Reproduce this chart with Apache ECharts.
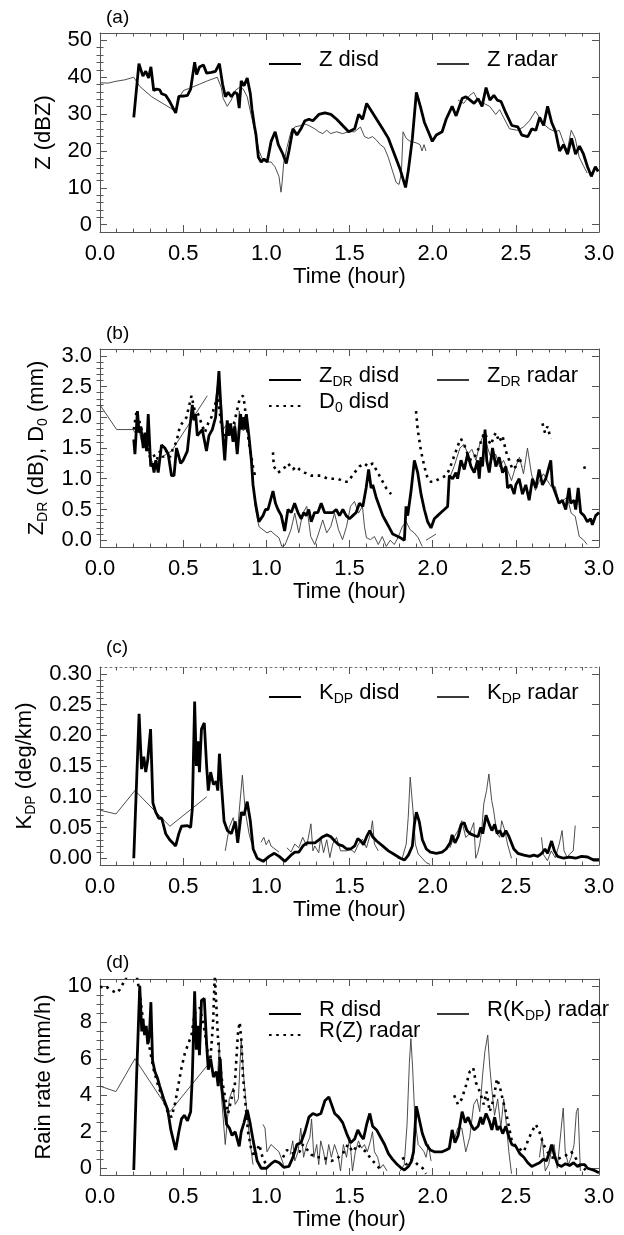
<!DOCTYPE html>
<html><head><meta charset="utf-8">
<script src="https://cdn.jsdelivr.net/npm/echarts@6/dist/echarts.min.js"></script>
<style>html,body{margin:0;padding:0;background:#fff}#c{width:624px;height:1235px}</style>
</head><body><div id="c"></div>
<script>
const FONT = "'Liberation Sans', Arial, Helvetica, sans-serif";

// ---------- DATA: [time (hour), value] ----------
// Panel (a): Z (dBZ)
const zDisd = [[0.203,29.1],[0.234,43.7],[0.258,40.3],[0.275,41.6],[0.292,39.8],[0.306,42.8],[0.323,36.4],[0.34,36.8],[0.359,36.6],[0.371,35.5],[0.395,35.1],[0.419,33.4],[0.455,30.3],[0.474,34.8],[0.502,34.9],[0.526,35.1],[0.545,36.8],[0.569,44.1],[0.581,40.7],[0.598,42.8],[0.622,43.3],[0.641,41.1],[0.67,41.3],[0.694,41.6],[0.718,43.7],[0.737,38.1],[0.754,34.7],[0.77,35.9],[0.79,34.7],[0.809,35.9],[0.825,35.5],[0.837,31.6],[0.849,39],[0.866,37.7],[0.885,39.8],[0.904,35.5],[0.914,31.2],[0.928,26.9],[0.938,24.3],[0.952,18.3],[0.969,17],[0.986,17.8],[1.005,17],[1.029,22.6],[1.053,25.2],[1.072,21.7],[1.1,19.1],[1.12,16.6],[1.136,20],[1.16,26],[1.184,24.3],[1.208,26],[1.232,28.2],[1.256,28.6],[1.28,28.2],[1.316,29.9],[1.352,30.3],[1.388,29.9],[1.423,28.6],[1.459,26.9],[1.495,25.2],[1.531,26],[1.555,29.9],[1.579,28.6],[1.603,32.9],[1.627,31.2],[1.663,28.6],[1.699,26],[1.734,23.4],[1.77,19.1],[1.806,14.8],[1.837,10.1],[1.854,14.8],[1.878,23.4],[1.902,35.9],[1.926,32.1],[1.95,27.8],[1.974,25.2],[1.998,22.6],[2.022,24.3],[2.057,25.2],[2.081,28.6],[2.117,32.1],[2.141,29.5],[2.177,34.2],[2.2,34.7],[2.225,33.8],[2.249,32.9],[2.273,34.2],[2.297,32.1],[2.321,37.2],[2.344,33.8],[2.368,35.1],[2.388,33.8],[2.411,33.4],[2.44,30.3],[2.476,26.9],[2.512,26.5],[2.536,24.3],[2.572,23.9],[2.596,26],[2.62,25.6],[2.643,29.1],[2.667,26.9],[2.691,32.1],[2.715,27.8],[2.739,25.2],[2.763,20],[2.787,21.7],[2.811,19.1],[2.835,23.4],[2.859,19.1],[2.883,21.3],[2.907,19.1],[2.931,15.7],[2.954,13.1],[2.978,15.7],[2.995,14.4]];
const zRadar = [[0,38.5],[0.05,38.4],[0.096,38.9],[0.15,39.3],[0.203,40],[0.215,40.2],[0.239,37.5],[0.311,34.7],[0.454,30.8],[0.478,34.7],[0.502,36.4],[0.55,37.2],[0.598,38.1],[0.645,39],[0.705,40],[0.729,37.2],[0.741,34.2],[0.765,32.1],[0.789,33.8],[0.813,36.4],[0.837,37.2],[0.861,36.8],[0.885,34.7],[0.908,29.9],[0.932,25.2],[0.956,20],[0.98,17.4],[1.004,17],[1.028,17],[1.052,15.7],[1.076,13.1],[1.088,8.8],[1.095,11.4],[1.104,16.6],[1.124,20.9],[1.148,25.2],[1.171,26.5],[1.207,26.9],[1.231,27.3],[1.255,26.9],[1.291,26],[1.315,25.2],[1.339,24.7],[1.363,25.6],[1.387,24.7],[1.422,25.2],[1.458,24.7],[1.494,25.2],[1.53,25.2],[1.566,26.5],[1.59,23.9],[1.614,23.4],[1.638,23.9],[1.661,23],[1.685,21.7],[1.709,20.9],[1.733,18.3],[1.757,14.8],[1.781,11.4],[1.798,10.9],[1.812,14],[1.822,25.2],[1.841,23.4],[1.865,22.6],[1.901,22.2],[1.924,21.7],[1.936,20],[1.948,21.7],[1.96,20],[2.0,null],[2.152,33.8],[2.187,32.9],[2.223,35.1],[2.247,35.9],[2.271,33.8],[2.307,32.9],[2.343,32.1],[2.379,29.9],[2.403,31.2],[2.426,29.1],[2.462,26],[2.51,25.6],[2.546,26.5],[2.582,28.2],[2.618,30.8],[2.642,29.1],[2.666,27.3],[2.701,26],[2.737,25.2],[2.761,25.6],[2.785,22.6],[2.809,20],[2.833,25.6],[2.857,23.4],[2.881,18.3],[2.905,16.1],[2.929,14]];

// Panel (b): ZDR (dB), D0 (mm)
const zdrDisd = [[0.203,1.64],[0.21,1.4],[0.225,2.1],[0.235,1.75],[0.245,1.85],[0.26,1.5],[0.27,1.75],[0.28,1.45],[0.29,2.05],[0.305,1.2],[0.315,1.25],[0.325,1.1],[0.335,1.3],[0.35,1.1],[0.37,1.55],[0.39,1.5],[0.41,1.4],[0.43,1.05],[0.445,1.05],[0.46,1.5],[0.47,1.4],[0.485,1.25],[0.5,1.3],[0.525,1.45],[0.555,2.2],[0.565,1.95],[0.575,2.05],[0.585,1.7],[0.6,1.75],[0.615,1.8],[0.64,1.45],[0.655,1.7],[0.675,1.8],[0.695,2.0],[0.715,2.75],[0.73,2.0],[0.75,1.3],[0.765,1.95],[0.775,1.7],[0.785,1.9],[0.8,1.6],[0.81,1.85],[0.825,1.4],[0.845,2.05],[0.855,1.8],[0.865,2.0],[0.875,1.8],[0.88,2.05],[0.895,1.7],[0.91,1.3],[0.92,0.9],[0.935,0.6],[0.955,0.3],[0.965,0.3],[0.98,0.4],[0.995,0.5],[1.01,0.5],[1.04,0.8],[1.055,0.6],[1.07,0.5],[1.09,0.4],[1.11,0.15],[1.13,0.5],[1.15,0.45],[1.17,0.6],[1.19,0.45],[1.21,0.35],[1.225,0.45],[1.24,0.4],[1.255,0.5],[1.27,0.3],[1.29,0.45],[1.31,0.45],[1.33,0.6],[1.35,0.45],[1.38,0.45],[1.4,0.45],[1.42,0.5],[1.44,0.4],[1.46,0.5],[1.48,0.4],[1.5,0.35],[1.52,0.4],[1.54,0.45],[1.56,0.6],[1.58,0.55],[1.6,0.85],[1.615,1.15],[1.63,0.85],[1.64,0.9],[1.66,0.7],[1.68,0.55],[1.7,0.4],[1.72,0.3],[1.74,0.2],[1.76,0.1],[1.8,0.05],[1.83,0.0],[1.84,0.55],[1.85,0.4],[1.87,0.8],[1.89,1.3],[1.91,1.1],[1.93,0.75],[1.95,0.5],[1.97,0.3],[1.99,0.2],[2.01,0.35],[2.03,0.4],[2.05,0.45],[2.07,0.5],[2.09,0.55],[2.1,1.05],[2.12,1.0],[2.14,1.1],[2.15,1.0],[2.17,1.3],[2.19,1.15],[2.21,1.4],[2.23,1.2],[2.25,1.1],[2.27,1.3],[2.28,1.0],[2.29,1.35],[2.3,1.2],[2.315,1.8],[2.325,1.3],[2.34,1.1],[2.36,1.5],[2.38,1.2],[2.4,1.35],[2.42,1.1],[2.44,1.2],[2.45,0.85],[2.47,0.9],[2.49,0.75],[2.5,0.9],[2.52,1.0],[2.54,0.75],[2.56,0.9],[2.58,0.65],[2.6,1.0],[2.62,0.85],[2.64,1.15],[2.66,0.9],[2.68,1.0],[2.71,1.3],[2.72,0.9],[2.74,0.75],[2.76,0.6],[2.78,0.65],[2.8,0.5],[2.82,0.85],[2.83,0.6],[2.85,0.65],[2.86,0.5],[2.875,0.85],[2.89,0.45],[2.91,0.4],[2.93,0.3],[2.95,0.35],[2.96,0.25],[2.98,0.4],[3.0,0.45]];
const zdrRadar = [[0,2.2],[0.1,1.8],[0.2,1.8],[0.21,1.75],[0.23,1.85],[0.25,1.6],[0.27,1.7],[0.29,1.45],[0.31,1.3],[0.33,1.2],[0.35,1.3],[0.37,1.35],[0.4,1.4],[0.43,1.45],[0.645,2.35],[0.66,null],[0.69,2.2],[0.705,2.5],[0.729,2.25],[0.741,1.8],[0.765,1.9],[0.789,1.7],[0.813,1.9],[0.825,1.55],[0.837,2.1],[0.861,1.78],[0.885,1.9],[0.908,1.35],[0.932,0.55],[0.956,0.22],[0.98,0.17],[1.004,0.12],[1.028,0.15],[1.052,0.09],[1.076,0.04],[1.093,-0.1],[1.112,-0.08],[1.148,0.17],[1.171,0.44],[1.195,0.12],[1.219,0.44],[1.243,0.55],[1.267,0.06],[1.291,-0.07],[1.315,0.12],[1.339,0.33],[1.363,0.12],[1.387,0.22],[1.41,0.44],[1.434,0.17],[1.458,0.01],[1.482,0.22],[1.506,0.55],[1.53,0.63],[1.554,0.44],[1.578,0.55],[1.59,0.22],[1.602,0.04],[1.626,0.01],[1.65,0.06],[1.673,-0.07],[1.697,0.06],[1.721,-0.1],[1.745,0.0],[1.769,-0.07],[1.793,0.05],[1.817,0.22],[1.841,0.3],[1.865,0.17],[1.889,0.12],[1.913,0.04],[1.937,-0.1],[1.95,null],[1.96,0.0],[1.99,0.05],[2.02,0.1],[2.03,null],[2.093,0.95],[2.129,1.2],[2.164,1.5],[2.188,1.56],[2.212,1.4],[2.236,1.48],[2.26,1.3],[2.283,1.56],[2.307,1.72],[2.331,1.5],[2.355,1.3],[2.379,1.4],[2.403,1.19],[2.426,1.3],[2.45,1.14],[2.474,0.97],[2.498,1.19],[2.522,1.35],[2.546,1.08],[2.57,1.5],[2.594,1.08],[2.618,0.81],[2.642,0.97],[2.666,1.08],[2.69,0.97],[2.713,0.87],[2.737,0.87],[2.761,0.6],[2.785,0.65],[2.809,0.7],[2.833,0.44],[2.857,0.39],[2.881,0.06],[2.905,0.01],[2.929,-0.07]];
const d0Disd = [[0.203,1.8],[0.22,2.1],[0.24,1.9],[0.26,1.7],[0.28,1.6],[0.3,1.35],[0.32,1.4],[0.34,1.3],[0.36,1.45],[0.38,1.35],[0.4,1.45],[0.42,1.35],[0.44,1.5],[0.46,1.6],[0.48,1.85],[0.52,2.0],[0.55,2.35],[0.57,2.1],[0.59,2.05],[0.61,1.9],[0.63,1.75],[0.65,1.9],[0.67,2.0],[0.69,2.2],[0.71,2.3],[0.73,1.85],[0.75,1.7],[0.77,1.8],[0.79,1.75],[0.81,1.95],[0.84,2.3],[0.86,2.35],[0.87,2.2],[0.88,1.9],[0.9,1.5],[0.92,1.2],[0.935,1.0],[0.95,null],[1.04,1.43],[1.045,1.2],[1.07,1.1],[1.1,1.15],[1.13,1.25],[1.16,1.15],[1.18,1.2],[1.2,1.15],[1.23,1.1],[1.27,1.05],[1.3,1.05],[1.33,1.05],[1.37,1.0],[1.4,1.0],[1.43,1.0],[1.47,0.95],[1.49,0.95],[1.53,1.1],[1.56,1.2],[1.59,1.25],[1.61,1.2],[1.64,1.25],[1.67,1.1],[1.7,0.95],[1.72,0.85],[1.75,0.75],[1.77,null],[1.9,2.1],[1.91,1.8],[1.93,1.45],[1.95,1.2],[1.97,1.0],[1.99,0.95],[2.01,0.95],[2.04,1.0],[2.08,1.05],[2.1,1.15],[2.12,1.3],[2.14,1.45],[2.16,1.6],[2.17,1.65],[2.19,1.55],[2.21,1.4],[2.23,1.3],[2.25,1.35],[2.27,1.45],[2.29,1.6],[2.31,1.75],[2.33,1.65],[2.35,1.55],[2.37,1.7],[2.38,1.75],[2.4,1.6],[2.42,1.7],[2.44,1.45],[2.46,1.3],[2.48,1.15],[2.5,1.2],[2.52,1.35],[2.54,1.2],[2.56,null],[2.66,1.9],[2.675,1.75],[2.69,1.85],[2.71,1.65],[2.72,null],[2.91,1.2],[2.925,1.1]];

// Panel (c): KDP (deg/km)
const kdpDisd = [[0.203,0.0],[0.235,0.235],[0.25,0.145],[0.263,0.165],[0.275,0.14],[0.287,0.16],[0.304,0.21],[0.318,0.09],[0.335,0.075],[0.354,0.065],[0.371,0.065],[0.395,0.04],[0.419,0.03],[0.455,0.02],[0.474,0.04],[0.49,0.052],[0.526,0.053],[0.545,0.05],[0.555,0.08],[0.569,0.255],[0.579,0.15],[0.589,0.19],[0.598,0.14],[0.61,0.21],[0.627,0.22],[0.641,0.15],[0.651,0.11],[0.665,0.14],[0.682,0.12],[0.699,0.125],[0.708,0.11],[0.718,0.17],[0.73,0.12],[0.746,0.06],[0.766,0.045],[0.79,0.04],[0.813,0.06],[0.828,0.025],[0.85,0.075],[0.866,0.07],[0.885,0.092],[0.904,0.06],[0.921,0.015],[0.945,0.0],[0.981,-0.005],[1.017,0.003],[1.048,0.008],[1.077,0.003],[1.112,-0.005],[1.148,0.005],[1.172,0.01],[1.196,0.01],[1.22,0.02],[1.244,0.025],[1.268,0.025],[1.292,0.025],[1.316,0.03],[1.34,0.035],[1.364,0.038],[1.388,0.035],[1.411,0.028],[1.435,0.022],[1.459,0.02],[1.483,0.015],[1.507,0.015],[1.531,0.02],[1.55,0.032],[1.567,0.028],[1.584,0.022],[1.603,0.035],[1.622,0.045],[1.639,0.035],[1.663,0.028],[1.699,0.02],[1.734,0.012],[1.77,0.006],[1.806,0.0],[1.83,-0.003],[1.854,0.005],[1.878,0.02],[1.89,0.055],[1.902,0.075],[1.919,0.06],[1.938,0.03],[1.962,0.015],[1.986,0.01],[2.022,0.008],[2.057,0.01],[2.081,0.015],[2.105,0.025],[2.117,0.038],[2.134,0.025],[2.153,0.035],[2.172,0.055],[2.189,0.058],[2.206,0.045],[2.225,0.04],[2.249,0.037],[2.273,0.035],[2.289,0.05],[2.301,0.04],[2.321,0.07],[2.34,0.055],[2.356,0.045],[2.373,0.055],[2.388,0.04],[2.404,0.045],[2.421,0.035],[2.44,0.045],[2.459,0.035],[2.488,0.015],[2.512,0.008],[2.548,0.005],[2.584,0.003],[2.608,0.005],[2.632,0.003],[2.656,0.008],[2.675,0.015],[2.691,0.008],[2.715,0.028],[2.732,0.012],[2.751,0.003],[2.787,0.0],[2.823,0.002],[2.859,0.0],[2.895,0.003],[2.931,0.002],[2.967,-0.003],[3.0,-0.003]];
const kdpRadar = [[0,0.078],[0.096,0.072],[0.21,0.11],[0.42,0.052],[0.642,0.1],[0.66,null],[0.753,0.012],[0.777,0.05],[0.801,0.066],[0.825,0.034],[0.837,0.077],[0.856,0.135],[0.873,0.077],[0.896,0.04],[0.913,0.023],[0.93,null],[0.968,0.026],[0.985,0.034],[0.999,0.022],[1.015,0.03],[1.028,0.02],[1.052,0.015],[1.076,0.01],[1.09,null],[1.124,0.017],[1.148,0.01],[1.171,0.023],[1.195,0.017],[1.219,0.034],[1.243,0.02],[1.268,0.056],[1.28,0.012],[1.291,0.02],[1.315,0.009],[1.327,0.034],[1.344,0.009],[1.363,0.03],[1.382,0.001],[1.399,0.023],[1.422,0.034],[1.446,0.012],[1.482,0.012],[1.506,0.015],[1.53,0.009],[1.554,0.023],[1.578,0.031],[1.602,0.017],[1.626,0.04],[1.638,0.061],[1.65,0.023],[1.673,0.012],[1.69,null],[1.79,0.0],[1.817,0.0],[1.841,0.023],[1.853,0.066],[1.865,0.132],[1.882,0.077],[1.896,0.023],[1.913,0.007],[1.937,0.0],[1.96,-0.007],[1.984,-0.01],[2.0,null],[2.104,0.017],[2.128,0.034],[2.152,0.045],[2.175,0.061],[2.199,0.034],[2.223,0.04],[2.247,0.058],[2.259,0.0],[2.271,0.009],[2.283,0.023],[2.295,0.045],[2.307,0.088],[2.324,0.11],[2.338,0.137],[2.355,0.094],[2.367,0.077],[2.386,0.04],[2.403,0.034],[2.415,0.061],[2.434,0.045],[2.45,0.023],[2.474,0.0],[2.49,null],[2.654,0.034],[2.666,0.006],[2.69,-0.004],[2.713,0.012],[2.737,0.001],[2.761,0.023],[2.778,0.045],[2.79,0.012],[2.809,0.001],[2.821,0.006],[2.845,0.012],[2.857,0.053],[2.87,null]];

// Panel (d): rain rate (mm/h)
const rDisd = [[0.203,-0.1],[0.22,5],[0.239,10],[0.251,7.5],[0.258,8.2],[0.268,7.3],[0.278,7.8],[0.287,6.8],[0.297,7.3],[0.306,9.1],[0.316,5.9],[0.33,5.3],[0.347,4.9],[0.359,4.5],[0.383,3.8],[0.407,3.2],[0.426,2.1],[0.435,2.0],[0.455,1.0],[0.474,2.0],[0.49,2.7],[0.507,2.9],[0.526,2.6],[0.545,3.1],[0.555,5.0],[0.569,9.7],[0.579,6.5],[0.589,7.8],[0.598,6.2],[0.61,9.2],[0.627,9.3],[0.641,6.8],[0.651,5.4],[0.665,6.0],[0.682,5.0],[0.699,5.3],[0.711,4.5],[0.723,6.0],[0.732,4.4],[0.746,3.5],[0.761,2.4],[0.778,2.2],[0.794,1.8],[0.813,2.0],[0.825,1.6],[0.837,1.2],[0.849,2.0],[0.866,2.5],[0.885,3.2],[0.902,2.5],[0.921,1.5],[0.945,0.4],[0.969,0.0],[1.0,0.0],[1.029,0.25],[1.053,0.4],[1.077,0.3],[1.105,0.05],[1.136,0.1],[1.16,0.6],[1.184,1.3],[1.208,1.4],[1.232,2.0],[1.256,2.8],[1.28,3.0],[1.304,2.9],[1.328,3.0],[1.352,3.7],[1.376,3.9],[1.392,3.5],[1.411,3.0],[1.435,2.8],[1.459,2.5],[1.483,1.9],[1.507,1.4],[1.531,1.6],[1.55,2.1],[1.567,1.8],[1.584,1.6],[1.603,2.4],[1.622,3.0],[1.639,2.3],[1.663,2.1],[1.687,1.7],[1.711,1.3],[1.734,0.8],[1.758,0.5],[1.782,0.25],[1.806,0.05],[1.83,-0.1],[1.854,0.1],[1.871,0.35],[1.885,0.9],[1.902,3.4],[1.919,2.7],[1.938,1.9],[1.962,1.3],[1.986,1.0],[2.01,0.9],[2.033,0.9],[2.057,0.9],[2.081,1.0],[2.1,1.1],[2.117,2.1],[2.134,1.4],[2.153,1.8],[2.177,3.1],[2.196,2.5],[2.213,2.8],[2.23,2.4],[2.249,2.1],[2.273,2.3],[2.289,2.8],[2.301,2.4],[2.321,3.0],[2.34,2.6],[2.356,2.1],[2.373,2.8],[2.388,2.1],[2.404,2.3],[2.421,1.9],[2.44,2.3],[2.459,1.7],[2.476,1.3],[2.5,1.2],[2.524,0.8],[2.548,0.6],[2.572,0.3],[2.596,0.1],[2.62,0.2],[2.643,0.3],[2.667,0.5],[2.684,0.4],[2.703,0.9],[2.715,1.3],[2.732,0.7],[2.751,0.2],[2.775,0.1],[2.799,0.25],[2.823,0.15],[2.847,0.3],[2.871,0.1],[2.895,0.2],[2.914,0.2],[2.931,0.0],[2.967,-0.1],[3.0,-0.25]];
const rzRadar = [[0,9.9],[0.03,10],[0.06,9.8],[0.1,9.6],[0.12,9.8],[0.16,10.5],[0.22,10.6],[0.24,9.5],[0.26,8.0],[0.28,7.5],[0.3,6.5],[0.32,5.5],[0.35,4.5],[0.38,3.8],[0.41,3.0],[0.43,2.8],[0.45,3.5],[0.47,4.5],[0.49,5.5],[0.51,6.3],[0.53,6.8],[0.55,7.3],[0.57,8.5],[0.6,8.8],[0.63,7.5],[0.66,5.5],[0.68,8.0],[0.69,10.6],[0.7,10.6],[0.71,7.0],[0.73,5.0],[0.75,4.0],[0.77,3.0],[0.79,3.8],[0.81,4.5],[0.83,7.5],[0.84,8.0],[0.85,7.0],[0.86,5.0],[0.875,3.5],[0.89,2.0],[0.91,1.0],[0.93,0.6],[0.957,1.3],[0.98,0.5],[1.0,0.2],[1.02,null],[1.1,0.6],[1.124,1.0],[1.15,0.8],[1.2,0.9],[1.22,1.3],[1.27,0.75],[1.3,0.6],[1.34,0.6],[1.39,0.4],[1.42,0.5],[1.46,0.8],[1.49,1.3],[1.52,0.9],[1.55,1.3],[1.57,1.1],[1.6,0.9],[1.63,0.5],[1.66,0.2],[1.69,-0.1],[1.71,null],[1.82,0.6],[1.84,0.2],[1.88,0.5],[1.91,0.2],[1.94,0.0],[1.96,-0.3],[1.97,null],[2.129,4.0],[2.152,3.5],[2.175,3.8],[2.199,4.5],[2.223,5.3],[2.244,5.5],[2.26,4.7],[2.283,4.2],[2.307,3.5],[2.324,4.2],[2.343,3.1],[2.367,3.8],[2.386,4.9],[2.403,4.5],[2.42,3.8],[2.44,3.1],[2.46,2.2],[2.476,1.5],[2.5,1.2],[2.548,0.9],[2.572,1.5],[2.596,2.0],[2.62,2.4],[2.642,2.0],[2.666,1.3],[2.69,0.9],[2.714,0.6],[2.75,0.5],[2.8,0.7],[2.833,0.9],[2.857,0.6],[2.88,0.2],[2.92,-0.1]];
const rkdpRadar = [[0,4.5],[0.096,4.2],[0.21,6.0],[0.42,3.1],[0.642,5.6],[0.66,null],[0.705,4.5],[0.717,6.9],[0.729,4.1],[0.753,1.3],[0.777,3.8],[0.801,4.4],[0.813,3.5],[0.832,3.8],[0.849,7.1],[0.865,4.9],[0.885,2.9],[0.904,1.3],[0.92,0.2],[0.94,null],[0.98,2.4],[0.992,2.2],[1.004,0.9],[1.028,1.3],[1.052,1.1],[1.076,0.9],[1.088,0.9],[1.104,0.2],[1.12,null],[1.143,0.75],[1.159,1.5],[1.171,0.4],[1.191,0.9],[1.207,2.2],[1.224,0.6],[1.243,1.3],[1.262,1.7],[1.272,2.7],[1.286,0.6],[1.303,1.3],[1.315,0.2],[1.327,1.5],[1.344,0.9],[1.358,0.2],[1.375,1.3],[1.391,0.6],[1.41,1.3],[1.43,0.75],[1.446,-0.15],[1.463,1.3],[1.482,0.6],[1.501,1.7],[1.518,-0.15],[1.535,0.9],[1.554,1.5],[1.573,1.1],[1.59,1.3],[1.607,0.9],[1.626,1.5],[1.638,2.0],[1.65,0.9],[1.669,0.6],[1.685,0.0],[1.702,0.2],[1.726,-0.15],[1.75,null],[1.805,-0.15],[1.829,0.2],[1.846,2.4],[1.86,5.8],[1.869,7.1],[1.879,5.6],[1.893,2.7],[1.913,1.3],[1.932,1.1],[1.948,0.9],[1.96,0.6],[1.975,1.3],[1.99,0.4],[2.0,null],[2.128,1.5],[2.15,2.2],[2.175,2.2],[2.199,0.9],[2.223,1.7],[2.247,3.5],[2.266,3.8],[2.283,3.1],[2.3,5.1],[2.314,6.4],[2.331,7.3],[2.343,5.6],[2.357,4.2],[2.372,2.9],[2.391,3.8],[2.41,2.2],[2.427,3.8],[2.443,2.4],[2.458,0.9],[2.474,-0.3],[2.49,null],[2.642,0.6],[2.658,1.7],[2.677,-0.15],[2.697,0.2],[2.713,0.9],[2.73,1.3],[2.749,0.0],[2.773,2.2],[2.785,3.3],[2.797,0.9],[2.816,0.2],[2.833,0.6],[2.85,1.3],[2.864,3.1],[2.874,3.3],[2.888,-0.15]];

// ---------- ticks ----------
const xMin = 0, xMax = 3, xInterval = 0.5;
const aMajor = [0,10,20,30,40,50];
const aMinor = [2,4,6,8,12,14,16,18,22,24,26,28,32,34,36,38,42,44,46,48];
const bMajor = [0,0.5,1.0,1.5,2.0,2.5,3.0];
const bMinor = [0.1,0.2,0.3,0.4,0.6,0.7,0.8,0.9,1.1,1.2,1.3,1.4,1.6,1.7,1.8,1.9,2.1,2.2,2.3,2.4,2.6,2.7,2.8,2.9];
const cMajor = [0,0.05,0.10,0.15,0.20,0.25,0.30];
const cMinor = [0.01,0.02,0.03,0.04,0.06,0.07,0.08,0.09,0.11,0.12,0.13,0.14,0.16,0.17,0.18,0.19,0.21,0.22,0.23,0.24,0.26,0.27,0.28,0.29];
const dMajor = [0,2,4,6,8,10];
const dMinor = [0.5,1,1.5,2.5,3,3.5,4.5,5,5.5,6.5,7,7.5,8.5,9,9.5];

// ---------- labels ----------
const LABELS = {
  'Z disd':'{m|Z disd}', 'Z radar':'{m|Z radar}',
  'ZDR disd':'{m|Z}{s|DR}{m| disd}', 'ZDR radar':'{m|Z}{s|DR}{m| radar}', 'D0 disd':'{m|D}{s|0}{m| disd}',
  'KDP disd':'{m|K}{s|DP}{m| disd}', 'KDP radar':'{m|K}{s|DP}{m| radar}',
  'R disd':'{m|R disd}', 'R(Z) radar':'{m|R(Z) radar}', 'R(KDP) radar':'{m|R(K}{s|DP}{m|) radar}'
};
const YNAMES = ['{m|Z (dBZ)}', '{m|Z}{s|DR}{m| (dB), D}{s|0}{m| (mm)}', '{m|K}{s|DP}{m| (deg/km)}', '{m|Rain rate (mm/h)}'];

const RICH = {
  m:{fontSize:22, fontFamily:FONT, color:'#000', lineHeight:26},
  s:{fontSize:14, fontFamily:FONT, color:'#000', lineHeight:14, verticalAlign:'bottom'}
};
const AX = '#555';
const grids = [
  {left:100, width:499, top:33, height:199},
  {left:100, width:499, top:349, height:198},
  {left:100, width:499, top:667, height:198},
  {left:100, width:499, top:979, height:196}
];
const yCfg = [
  {min:-2, max:52, major:aMajor, minor:aMinor, fmt:v=>String(Math.round(v)), gap:42},
  {min:-0.11, max:3.11, major:bMajor, minor:bMinor, fmt:v=>v.toFixed(1), gap:50},
  {min:-0.011, max:0.311, major:cMajor, minor:cMinor, fmt:v=>v.toFixed(2), gap:61},
  {min:-0.37, max:10.37, major:dMajor, minor:dMinor, fmt:v=>String(Math.round(v)), gap:43}
];

const xAxes = [], yAxes = [];
grids.forEach((g, gi) => {
  const base = {type:'value', gridIndex:gi, min:xMin, max:xMax, interval:xInterval,
    axisLine:{show:true, onZero:false, lineStyle:{color:AX, width:1}},
    axisTick:{show:true, inside:true, length:7, lineStyle:{color:AX}},
    minorTick:{show:true, splitNumber:5, length:3.5, lineStyle:{color:AX}},
    splitLine:{show:false}, minorSplitLine:{show:false}};
  xAxes.push(Object.assign({}, base, {position:'bottom',
    axisLabel:{show:true, margin:11, fontSize:22, color:'#000', fontFamily:FONT, formatter:v=>v.toFixed(1)},
    name:'Time (hour)', nameLocation:'middle', nameGap:34,
    nameTextStyle:{fontSize:22, color:'#000', fontFamily:FONT, lineHeight:22}}));
  const topLine = gi === 2 ? {show:true, onZero:false, lineStyle:{color:'#777', width:1, type:[2,3]}} : base.axisLine;
  xAxes.push(Object.assign({}, base, {position:'top', axisLine:topLine, axisLabel:{show:false}}));

  const c = yCfg[gi];
  const common = {type:'value', gridIndex:gi, min:c.min, max:c.max, splitLine:{show:false}};
  const line = {show:true, onZero:false, lineStyle:{color:AX, width:1}};
  const tick = (vals, len) => ({show:true, inside:true, length:len, customValues:vals, lineStyle:{color:AX}});
  yAxes.push(Object.assign({}, common, {position:'left', axisLine:line, axisTick:tick(c.major,7),
    axisLabel:{show:true, customValues:c.major, formatter:c.fmt, margin:8, fontSize:22, color:'#000', fontFamily:FONT},
    name:YNAMES[gi], nameLocation:'middle', nameGap:c.gap, nameRotate:90,
    nameTextStyle:{fontSize:22, fontFamily:FONT, color:'#000', lineHeight:26, rich:RICH}}));
  yAxes.push(Object.assign({}, common, {position:'left', axisLine:{show:false}, axisTick:tick(c.minor,3.5), axisLabel:{show:false}}));
  yAxes.push(Object.assign({}, common, {position:'right', axisLine:line, axisTick:tick(c.major,7), axisLabel:{show:false}}));
  yAxes.push(Object.assign({}, common, {position:'right', axisLine:{show:false}, axisTick:tick(c.minor,3.5), axisLabel:{show:false}}));
});

const THIN = {color:'#3a3a3a', width:0.9};
const THICK = {color:'#000', width:2.8};
const DOTS = {color:'#000', width:2.6, type:[2.6,4.6], cap:'butt'};
function ser(gi, name, data, style, z) {
  return {type:'line', name, xAxisIndex:gi*2, yAxisIndex:gi*4, data, symbol:'none', showSymbol:false,
    connectNulls:false, clip:true, lineStyle:style, itemStyle:{color:style.color}, color:style.color,
    z, animation:false, emphasis:{disabled:true}};
}
const series = [
  ser(0,'Z radar',zRadar,THIN,2), ser(0,'Z disd',zDisd,THICK,3),
  ser(1,'ZDR radar',zdrRadar,THIN,2), ser(1,'D0 disd',d0Disd,DOTS,3), ser(1,'ZDR disd',zdrDisd,THICK,4),
  ser(2,'KDP radar',kdpRadar,THIN,2), ser(2,'KDP disd',kdpDisd,THICK,3),
  ser(3,'R(KDP) radar',rkdpRadar,THIN,2), ser(3,'R(Z) radar',rzRadar,DOTS,3), ser(3,'R disd',rDisd,THICK,4)
];

function leg(name, left, cy) {
  return {data:[name], left, top:cy-13, itemWidth:32, itemHeight:14, padding:0, selectedMode:false,
    itemStyle:{opacity:0, borderWidth:0},
    textStyle:{fontSize:22, fontFamily:FONT, color:'#000', lineHeight:26, padding:[0,0,8,13], rich:RICH},
    formatter:n=>LABELS[n]};
}
const legends = [
  leg('Z disd',268,60), leg('Z radar',436,60),
  leg('ZDR disd',268,376), leg('ZDR radar',436,376), leg('D0 disd',268,402),
  leg('KDP disd',268,693), leg('KDP radar',436,693),
  leg('R disd',268,1010), leg('R(Z) radar',268,1031), leg('R(KDP) radar',436,1010)
];
const panelTitles = [['(a)',18],['(b)',334],['(c)',648],['(d)',963]].map(([t,cy]) => ({
  text:t, left:106, top:cy-11, padding:0,
  textStyle:{fontSize:19, fontWeight:'normal', fontFamily:FONT, color:'#000', lineHeight:22}}));

const chart = echarts.init(document.getElementById('c'), null, {renderer:'canvas'});
chart.setOption({
  animation:false, backgroundColor:'#fff',
  title:panelTitles, grid:grids, xAxis:xAxes, yAxis:yAxes, legend:legends, series
});
</script></body></html>
